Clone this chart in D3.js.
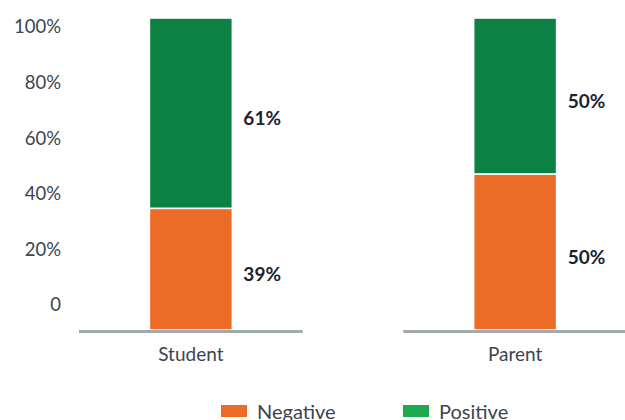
<!DOCTYPE html>
<html>
<head>
<meta charset="utf-8">
<script src="https://cdn.jsdelivr.net/npm/d3@7"></script>
<style>
  body { margin: 0; background: #fff; }
  svg text { font-family: Lato, "Open Sans", sans-serif; }
</style>
</head>
<body>
<svg id="chart" width="625" height="420"></svg>
<script>
// data
var categories = ["Student", "Parent"];
var negative = [39, 50];
var positive = [61, 50];
var tickValues = [0, 20, 40, 60, 80, 100];
var tickLabels = ["0", "20%", "40%", "60%", "80%", "100%"];
var seriesNames = ["Negative", "Positive"];

var w = 625, h = 420;
var barColors = ["#ec6b26", "#0b8144"];
var legendColors = ["#ec6b26", "#1eaa4e"];

var svg = d3.select("#chart");

var rows = categories.map(function(c, i) {
  return { cat: c, Negative: negative[i], Positive: positive[i] };
});
var stack = d3.stack().keys(seriesNames)(rows);

// band per category, the grey baseline sits under each band
var x = d3.scaleBand().domain(categories).range([79, 627]).paddingInner(0.31);
var y = d3.scaleLinear().domain([0, 100]).range([330, 18]);
// the tick labels in the original sit a bit off the bars
var yLabels = d3.scaleLinear().domain([0, 100]).range([305, 27]);
var barW = 83;

// y tick labels
var yAxis = d3.axisLeft(yLabels)
  .tickValues(tickValues)
  .tickSize(0)
  .tickPadding(0)
  .tickFormat(function(d, i) { return tickLabels[i]; });
var gy = svg.append("g").attr("transform", "translate(61,0)").call(yAxis);
gy.select(".domain").remove();
gy.selectAll("text")
  .attr("fill", "#3b4450")
  .style("font-size", "18.5px")
  .style("font-family", "Lato, 'Open Sans', sans-serif");

// bars
var layers = svg.selectAll("g.layer")
  .data(stack)
  .enter()
  .append("g")
  .attr("class", "layer")
  .attr("fill", function(d, i) { return barColors[i]; });

layers.selectAll("rect")
  .data(function(d) { return d; })
  .enter()
  .append("rect")
  .attr("x", function(d) { return x(d.data.cat) + x.bandwidth() / 2 - barW / 2; })
  .attr("y", function(d) { return y(d[1]); })
  .attr("width", barW)
  .attr("height", function(d) { return y(d[0]) - y(d[1]); })
  .attr("stroke", "#fff")
  .attr("stroke-width", 1.6);

// value labels to the right of the bars
layers.selectAll("text.val")
  .data(function(d) { return d; })
  .enter()
  .append("text")
  .attr("class", "val")
  .attr("x", function(d) { return x(d.data.cat) + x.bandwidth() / 2 + barW / 2 + 11; })
  .attr("y", function(d) { return (y(d[0]) + y(d[1])) / 2 + 5; })
  .attr("dy", "0.35em")
  .attr("fill", "#1c2330")
  .style("font-size", "19px")
  .style("font-weight", "bold")
  .text(function(d) { return (d[1] - d[0]) + "%"; });

// baseline + category labels
var xAxis = d3.axisBottom(x).tickSize(0).tickPadding(16);
var gx = svg.append("g").attr("transform", "translate(0,331.5)").call(xAxis);
gx.select(".domain").remove();
gx.selectAll(".tick").append("line")
  .attr("x1", -x.bandwidth() / 2)
  .attr("x2", x.bandwidth() / 2)
  .attr("stroke", "#a3aaad")
  .attr("stroke-width", 3);
gx.selectAll("text")
  .attr("fill", "#3b4450")
  .style("font-size", "19px")
  .style("font-family", "Lato, 'Open Sans', sans-serif");

// legend
var legendX = [221, 403];
var legend = svg.selectAll("g.legend")
  .data(seriesNames)
  .enter()
  .append("g")
  .attr("class", "legend")
  .attr("transform", function(d, i) { return "translate(" + legendX[i] + ",405)"; });
legend.append("rect")
  .attr("width", 26)
  .attr("height", 12)
  .attr("fill", function(d, i) { return legendColors[i]; });
legend.append("text")
  .attr("x", 36)
  .attr("y", 14)
  .attr("fill", "#3b4450")
  .style("font-size", "20px")
  .text(function(d) { return d; });
</script>
</body>
</html>
